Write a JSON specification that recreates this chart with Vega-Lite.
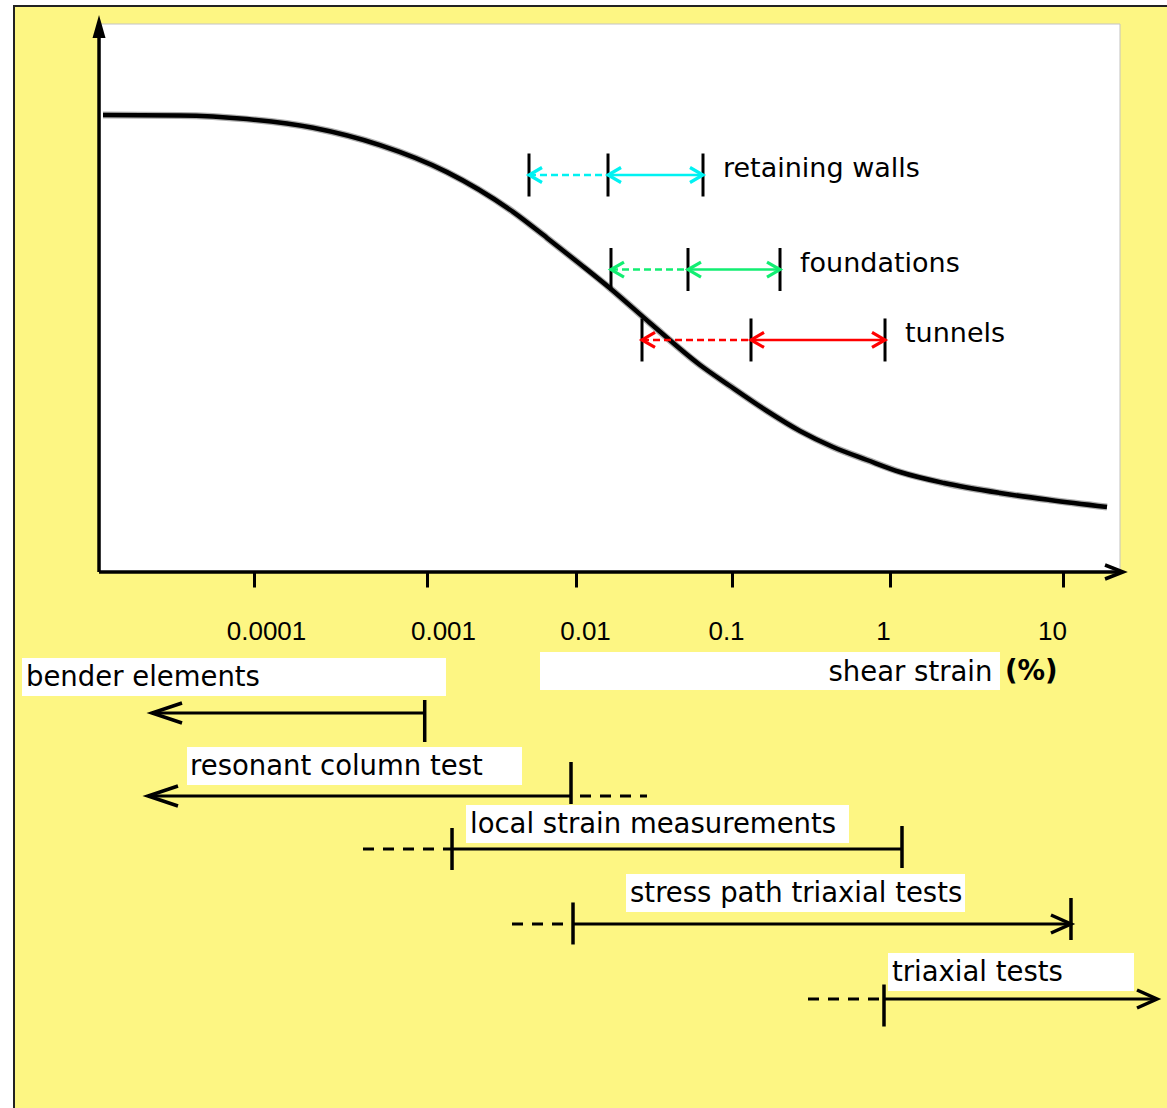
{
  "$schema": "https://vega.github.io/schema/vega-lite/v6.json",
  "width": 1167,
  "height": 1108,
  "autosize": "none",
  "padding": 0,
  "background": "#ffffff",
  "config": {"view": {"stroke": null}},
  "datasets": {
    "frame": [{"x_lo": 4.024e-6, "x_hi": 100, "y_lo": -1.3, "y_hi": 1.2385}],
    "plot": [{"x_lo": 1.256e-5, "x_hi": 21.35, "y_lo": 0, "y_hi": 1.1991}],
    "curve": [
      {"strain": 1.325e-5, "G": 1.0},
      {"strain": 3.713e-5, "G": 0.999},
      {"strain": 9.106e-5, "G": 0.991},
      {"strain": 2.193e-4, "G": 0.972},
      {"strain": 5.351e-4, "G": 0.934},
      {"strain": 1.362e-3, "G": 0.875},
      {"strain": 3.778e-3, "G": 0.788},
      {"strain": 6.388e-3, "G": 0.731},
      {"strain": 1.061e-2, "G": 0.674},
      {"strain": 1.652e-2, "G": 0.621},
      {"strain": 2.981e-2, "G": 0.5449},
      {"strain": 6.236e-2, "G": 0.453},
      {"strain": 9.71e-2, "G": 0.407},
      {"strain": 0.1666, "G": 0.3523},
      {"strain": 0.2694, "G": 0.3085},
      {"strain": 0.4357, "G": 0.2735},
      {"strain": 0.7152, "G": 0.2451},
      {"strain": 1.142, "G": 0.2188},
      {"strain": 2.052, "G": 0.1947},
      {"strain": 4.323, "G": 0.1729},
      {"strain": 8.413, "G": 0.1575},
      {"strain": 17.96, "G": 0.1422}
    ],
    "apps": [
      {"application": "retaining walls", "lo": 4.837e-3, "mid": 1.604e-2, "hi": 6.518e-2, "level": 0.8687},
      {"application": "foundations", "lo": 1.676e-2, "mid": 5.223e-2, "hi": 0.2013, "level": 0.6619},
      {"application": "tunnels", "lo": 2.649e-2, "mid": 0.1319, "hi": 0.9299, "level": 0.5077}
    ],
    "tests": [
      {"test": "bender elements", "lo": 2.553e-5, "hi": 9.7e-4, "level": -0.3085, "label_at": 4.725e-6, "label_level": -0.2495, "box_lo": 4.479e-6, "box_hi": 1.341e-3},
      {"test": "resonant column test", "lo": 2.419e-5, "hi": 9.257e-3, "ext_lo": 1.061e-2, "ext_hi": 2.852e-2, "level": -0.4902, "label_at": 4.246e-5, "label_level": -0.4442, "box_lo": 4.079e-5, "box_hi": 4.341e-3},
      {"test": "local strain measurements", "lo": 1.472e-3, "hi": 1.173, "ext_lo": 4.266e-4, "ext_hi": 1.472e-3, "level": -0.6061, "label_at": 1.944e-3, "label_level": -0.5711, "box_lo": 1.827e-3, "box_hi": 0.5503},
      {"test": "stress path triaxial tests", "lo": 9.548e-3, "hi": 11.12, "ext_lo": 3.72e-3, "ext_hi": 9.548e-3, "level": -0.7702, "label_at": 2.22e-2, "label_level": -0.7221, "box_lo": 2.092e-2, "box_hi": 2.714},
      {"test": "triaxial tests", "lo": 0.9162, "hi": 34.94, "ext_lo": 0.3027, "ext_hi": 0.9162, "level": -0.9344, "label_at": 1.027, "label_level": -0.895, "box_lo": 0.9712, "box_hi": 25.73}
    ],
    "test_ends": [
      {"test": "bender elements", "end": "left", "strain": 2.553e-5, "level": -0.3085},
      {"test": "bender elements", "end": "tick", "strain": 9.7e-4, "level": -0.326},
      {"test": "resonant column test", "end": "left", "strain": 2.419e-5, "level": -0.4902},
      {"test": "resonant column test", "end": "tick", "strain": 9.257e-3, "level": -0.4617},
      {"test": "local strain measurements", "end": "tick", "strain": 1.472e-3, "level": -0.6061},
      {"test": "local strain measurements", "end": "tick", "strain": 1.173, "level": -0.6018},
      {"test": "stress path triaxial tests", "end": "tick", "strain": 9.548e-3, "level": -0.7691},
      {"test": "stress path triaxial tests", "end": "tick", "strain": 11.12, "level": -0.7593},
      {"test": "stress path triaxial tests", "end": "right", "strain": 11.12, "level": -0.7702},
      {"test": "triaxial tests", "end": "tick", "strain": 0.9162, "level": -0.9486},
      {"test": "triaxial tests", "end": "right", "strain": 34.94, "level": -0.9344}
    ],
    "axes": [
      {"axis": "shear strain", "x1": 1.256e-5, "x2": 21.35, "y1": 0, "y2": 0},
      {"axis": "G", "x1": 1.256e-5, "x2": 1.256e-5, "y1": 0, "y2": 1.1729}
    ]
  },
  "layer": [
    {
      "data": {"name": "frame"},
      "mark": {"type": "rect", "fill": "#FDF683", "stroke": "#222222", "strokeWidth": 2},
      "encoding": {
        "x": {
          "field": "x_lo", "type": "quantitative",
          "scale": {"type": "log", "domain": [1e-6, 1e-5, 1e-4, 1e-3, 1e-2, 0.1, 1, 10, 100], "range": [-90, 82, 254, 427, 576, 732, 890, 1063, 1236], "nice": false},
          "axis": {
            "orient": "bottom", "offset": -536, "values": [0.0001, 0.001, 0.01, 0.1, 1, 10], "format": "~g",
            "domain": false, "grid": false, "tickSize": 15, "tickWidth": 3, "tickColor": "#000000",
            "labelFont": "Liberation Sans", "labelFontSize": 26, "labelColor": "#000000", "labelBaseline": "alphabetic",
            "labelPadding": 52,
            "labelOffset": {"condition": [{"test": "datum.value < 0.0005", "value": 12}, {"test": "datum.value < 0.005", "value": 16}, {"test": "datum.value < 0.05", "value": 9}, {"test": "datum.value < 0.5", "value": -6}, {"test": "datum.value < 5", "value": -7}], "value": -11},
            "labelFlush": false, "labelOverlap": false,
            "title": "shear strain", "titleFont": "DejaVu Sans", "titleFontSize": 27.5, "titleFontWeight": "normal", "titleColor": "#000000",
            "titleX": 828, "titleY": 108, "titleAlign": "left", "titleBaseline": "alphabetic", "titleAngle": 0, "zindex": 1
          }
        },
        "x2": {"field": "x_hi"},
        "y": {
          "field": "y_lo", "type": "quantitative",
          "scale": {"type": "linear", "domain": [-1.17287, 1.25164], "nice": false, "zero": false},
          "axis": {
            "orient": "left", "domain": false, "ticks": false, "labels": false, "grid": false,
            "title": "G", "titleAngle": 0, "titleX": 56, "titleY": 278, "titleAlign": "center", "titleBaseline": "alphabetic",
            "titleFont": "Liberation Sans", "titleFontSize": 43, "titleFontWeight": "bold", "titleColor": "#000000"
          }
        },
        "y2": {"field": "y_hi"}
      }
    },
    {
      "data": {"name": "plot"},
      "mark": {"type": "rect", "fill": "#ffffff", "stroke": "#c4c4c4", "strokeWidth": 1},
      "encoding": {
        "x": {"field": "x_lo", "type": "quantitative"},
        "x2": {"field": "x_hi"},
        "y": {"field": "y_lo", "type": "quantitative"},
        "y2": {"field": "y_hi"}
      }
    },
    {
      "data": {"name": "tests"},
      "mark": {"type": "rect", "fill": "#ffffff", "strokeWidth": 0, "yOffset": -28, "y2Offset": 10},
      "encoding": {
        "x": {"field": "box_lo", "type": "quantitative"},
        "x2": {"field": "box_hi"},
        "y": {"field": "label_level", "type": "quantitative"},
        "y2": {"field": "label_level"}
      }
    },
    {
      "data": {"values": [{"caption": "shear strain", "box_lo": 5.733e-3, "box_hi": 4.323, "label_level": -0.2363}]},
      "mark": {"type": "rect", "fill": "#ffffff", "strokeWidth": 0, "yOffset": -28, "y2Offset": 10},
      "encoding": {
        "x": {"field": "box_lo", "type": "quantitative"},
        "x2": {"field": "box_hi"},
        "y": {"field": "label_level", "type": "quantitative"},
        "y2": {"field": "label_level"}
      }
    },
    {
      "data": {"name": "curve"},
      "mark": {"type": "line", "interpolate": "monotone", "stroke": "#8a8a8a", "strokeWidth": 7, "opacity": 0.7},
      "encoding": {
        "x": {"field": "strain", "type": "quantitative"},
        "y": {"field": "G", "type": "quantitative"}
      }
    },
    {
      "data": {"name": "curve"},
      "mark": {"type": "line", "interpolate": "monotone", "stroke": "#000000", "strokeWidth": 4.5},
      "encoding": {
        "x": {"field": "strain", "type": "quantitative"},
        "y": {"field": "G", "type": "quantitative"}
      }
    },
    {
      "data": {"name": "apps"},
      "mark": {"type": "rule", "strokeWidth": 2.5, "strokeDash": [7, 4]},
      "encoding": {
        "x": {"field": "lo", "type": "quantitative"},
        "x2": {"field": "mid"},
        "y": {"field": "level", "type": "quantitative"},
        "color": {"field": "application", "type": "nominal", "scale": {"domain": ["retaining walls", "foundations", "tunnels"], "range": ["#00F2F2", "#12EE72", "#FF0000"]}, "legend": null}
      }
    },
    {
      "data": {"name": "apps"},
      "mark": {"type": "rule", "strokeWidth": 2.5},
      "encoding": {
        "x": {"field": "mid", "type": "quantitative"},
        "x2": {"field": "hi"},
        "y": {"field": "level", "type": "quantitative"},
        "color": {"field": "application", "type": "nominal", "legend": null}
      }
    },
    {
      "data": {"name": "apps"},
      "transform": [{"fold": ["lo", "mid", "hi"], "as": ["end", "strain"]}],
      "mark": {"type": "point", "shape": "M0,-1L0,1", "size": 1849, "filled": false, "stroke": "#000000", "strokeWidth": 3, "opacity": 1},
      "encoding": {
        "x": {"field": "strain", "type": "quantitative"},
        "y": {"field": "level", "type": "quantitative"}
      }
    },
    {
      "data": {"name": "apps"},
      "transform": [{"fold": ["lo", "mid"], "as": ["end", "strain"]}],
      "mark": {"type": "point", "shape": "M2.6,-1.5L0,0L2.6,1.5", "size": 100, "filled": false, "strokeWidth": 3.2, "opacity": 1},
      "encoding": {
        "x": {"field": "strain", "type": "quantitative"},
        "y": {"field": "level", "type": "quantitative"},
        "color": {"field": "application", "type": "nominal", "legend": null}
      }
    },
    {
      "data": {"name": "apps"},
      "mark": {"type": "point", "shape": "M-2.6,-1.5L0,0L-2.6,1.5", "size": 100, "filled": false, "strokeWidth": 3.2, "opacity": 1},
      "encoding": {
        "x": {"field": "hi", "type": "quantitative"},
        "y": {"field": "level", "type": "quantitative"},
        "color": {"field": "application", "type": "nominal", "legend": null}
      }
    },
    {
      "data": {"name": "apps"},
      "mark": {"type": "text", "align": "left", "baseline": "alphabetic", "dx": 20, "dy": 2, "font": "DejaVu Sans", "fontSize": 27, "color": "#000000"},
      "encoding": {
        "x": {"field": "hi", "type": "quantitative"},
        "y": {"field": "level", "type": "quantitative"},
        "text": {"field": "application"}
      }
    },
    {
      "data": {"name": "tests"},
      "mark": {"type": "rule", "strokeWidth": 3, "color": "#000000"},
      "encoding": {
        "x": {"field": "lo", "type": "quantitative"},
        "x2": {"field": "hi"},
        "y": {"field": "level", "type": "quantitative"}
      }
    },
    {
      "data": {"name": "tests"},
      "transform": [{"filter": "isValid(datum.ext_lo)"}],
      "mark": {"type": "rule", "strokeWidth": 3, "color": "#000000", "strokeDash": [11, 9]},
      "encoding": {
        "x": {"field": "ext_lo", "type": "quantitative"},
        "x2": {"field": "ext_hi"},
        "y": {"field": "level", "type": "quantitative"}
      }
    },
    {
      "data": {"name": "test_ends"},
      "transform": [{"filter": "datum.end === 'tick'"}],
      "mark": {"type": "point", "shape": "M0,-1L0,1", "size": 1764, "filled": false, "stroke": "#000000", "strokeWidth": 3.5, "opacity": 1},
      "encoding": {
        "x": {"field": "strain", "type": "quantitative"},
        "y": {"field": "level", "type": "quantitative"}
      }
    },
    {
      "data": {"name": "test_ends"},
      "transform": [{"filter": "datum.end === 'left'"}],
      "mark": {"type": "point", "shape": "M3,-1L0,0L3,1", "size": 400, "filled": false, "stroke": "#000000", "strokeWidth": 3.5, "opacity": 1},
      "encoding": {
        "x": {"field": "strain", "type": "quantitative"},
        "y": {"field": "level", "type": "quantitative"}
      }
    },
    {
      "data": {"name": "test_ends"},
      "transform": [{"filter": "datum.end === 'right'"}],
      "mark": {"type": "point", "shape": "M-2,-0.9L0,0L-2,0.9", "size": 400, "filled": false, "stroke": "#000000", "strokeWidth": 3.5, "opacity": 1},
      "encoding": {
        "x": {"field": "strain", "type": "quantitative"},
        "y": {"field": "level", "type": "quantitative"}
      }
    },
    {
      "data": {"name": "tests"},
      "mark": {"type": "text", "align": "left", "baseline": "alphabetic", "font": "DejaVu Sans", "fontSize": 27.5, "color": "#000000"},
      "encoding": {
        "x": {"field": "label_at", "type": "quantitative"},
        "y": {"field": "label_level", "type": "quantitative"},
        "text": {"field": "test"}
      }
    },
    {
      "data": {"name": "axes"},
      "mark": {"type": "rule", "strokeWidth": 3.5, "color": "#000000"},
      "encoding": {
        "x": {"field": "x1", "type": "quantitative"},
        "x2": {"field": "x2"},
        "y": {"field": "y1", "type": "quantitative"},
        "y2": {"field": "y2"}
      }
    },
    {
      "data": {"values": [{"axis": "G", "strain": 1.256e-5, "level": 1.2188}]},
      "mark": {"type": "point", "shape": "M0,0L0.65,2.3L-0.65,2.3Z", "size": 400, "filled": true, "fill": "#000000", "strokeWidth": 0, "opacity": 1},
      "encoding": {
        "x": {"field": "strain", "type": "quantitative"},
        "y": {"field": "level", "type": "quantitative"}
      }
    },
    {
      "data": {"values": [{"axis": "shear strain", "strain": 22.23, "level": 0}]},
      "mark": {"type": "point", "shape": "M-1.8,-0.7L0,0L-1.8,0.7", "size": 400, "filled": false, "stroke": "#000000", "strokeWidth": 3.5, "opacity": 1},
      "encoding": {
        "x": {"field": "strain", "type": "quantitative"},
        "y": {"field": "level", "type": "quantitative"}
      }
    },
    {
      "data": {"values": [{"unit": "(%)", "strain": 4.621, "level": -0.2363}]},
      "mark": {"type": "text", "align": "left", "baseline": "alphabetic", "font": "DejaVu Sans", "fontSize": 27.5, "fontWeight": "bold", "color": "#000000"},
      "encoding": {
        "x": {"field": "strain", "type": "quantitative"},
        "y": {"field": "level", "type": "quantitative"},
        "text": {"field": "unit"}
      }
    }
  ]
}
